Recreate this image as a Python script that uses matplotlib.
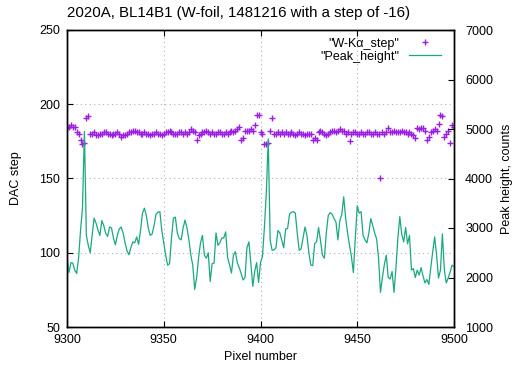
import numpy as np
import matplotlib
matplotlib.use("Agg")
import matplotlib.pyplot as plt
from matplotlib.lines import Line2D

plt.rcParams['font.family'] = ['Liberation Sans', 'DejaVu Sans']
plt.rcParams['font.size'] = 9

# pixel numbers scanned (one point per pixel)
pixel = np.arange(9300, 9501)

# DAC step read for each pixel
dac_step = [
    184, 185, 186, 185, 185, 181, 180, 176, 173, 174,
    191, 192, 180, 180, 181, 179, 179, 180, 180, 181,
    181, 180, 180, 179, 180, 180, 181, 180, 178, 179,
    179, 180, 181, 181, 182, 182, 181, 181, 180, 180,
    181, 180, 180, 179, 180, 180, 181, 180, 180, 179,
    180, 181, 181, 182, 181, 180, 180, 180, 181, 181,
    180, 181, 180, 181, 183, 182, 181, 176, 179, 180,
    181, 181, 182, 181, 180, 181, 180, 180, 181, 181,
    180, 180, 181, 180, 181, 182, 181, 182, 183, 185,
    176, 177, 182, 182, 182, 183, 182, 186, 193, 193,
    181, 180, 173, 173, 174, 182, 191, 180, 180, 181,
    180, 181, 180, 181, 180, 180, 181, 180, 179, 180,
    181, 180, 180, 179, 180, 180, 180, 176, 177, 176,
    181, 182, 181, 180, 179, 180, 181, 182, 182, 181,
    182, 183, 182, 182, 180, 181, 175, 180, 181, 181,
    180, 180, 181, 180, 180, 181, 181, 180, 180, 181,
    180, 180, 150, 181, 180, 181, 184, 181, 181, 182,
    181, 181, 181, 182, 181, 181, 180, 181, 180, 179,
    177, 184, 183, 184, 184, 182, 176, 178, 181, 182,
    183, 182, 187, 193, 192, 178, 180, 182, 174, 186,
    185,
]

# peak height (counts) for each pixel
peak_height = [
    2450, 2100, 2300, 2290, 2150, 2080, 2400, 2950, 3400, 4950,
    2850, 2650, 2500, 2850, 3200, 3100, 2960, 2850, 3150, 3050,
    2890, 2830, 3020, 3000, 2800, 2660, 2850, 2980, 3020, 2900,
    2700, 2540, 2460, 2600, 2720, 2700, 2820, 2670, 2950, 3300,
    3400, 3250, 3000, 2850, 2880, 3050, 3280, 3320, 3330, 2950,
    2700, 2450, 2250, 2280, 2800, 3200, 3220, 2900, 2790, 2760,
    3000, 3160, 3000, 2760, 2450, 2250, 1760, 2000, 2400, 2700,
    2850, 2450, 2390, 2500, 1920, 2280, 2290, 2900, 2650, 2700,
    2800, 2800, 2920, 2400, 2260, 2090, 2450, 2520, 2300, 2200,
    2080, 1950, 2000, 2600, 2720, 2300, 1820, 2120, 2300, 1900,
    2300, 2420, 3000, 3700, 4800, 2750, 2550, 2560, 2600, 2950,
    2900, 2750, 2600, 2980, 2990, 3280, 3320, 3330, 3300, 2890,
    2550, 2580, 2800, 3020, 2850, 2500, 2250, 2240, 2690, 2720,
    3010, 2750, 2450, 2390, 2900, 3250, 3310, 3280, 3190, 3120,
    2760, 3150, 3270, 3630, 3200, 2900, 2650, 2420, 2100, 2800,
    3450, 3300, 3330, 2850, 2760, 2700, 2900, 3190, 3050, 2900,
    2780, 2400, 1700, 2000, 2260, 2450, 2000, 1970, 2120, 1700,
    2200, 2800, 3230, 2870, 2720, 3010, 2680, 2850, 2150, 2180,
    2000, 2150, 2050, 2200, 2030, 1890, 1960, 1860, 2200, 2520,
    2820, 2450, 1990, 2150, 2880, 2160, 1890, 1990, 2110, 2250,
    2220,
]

x_ticks = [9300, 9350, 9400, 9450, 9500]
left_ticks = [50, 100, 150, 200, 250]
right_ticks = [1000, 2000, 3000, 4000, 5000, 6000, 7000]

purple = '#9b1fe0'
green = '#1aa97f'

fig = plt.figure(figsize=(5.17, 3.70), dpi=100)
ax = fig.add_axes([67 / 517, 43 / 370, 387 / 517, 297 / 370])
ax2 = ax.twinx()

ax.plot(pixel, dac_step, linestyle='none', marker='+', color=purple,
        markersize=5, markeredgewidth=1)
ax2.plot(pixel, peak_height, color=green, linewidth=0.9)

ax.set_xlim(9300, 9500)
ax.set_ylim(50, 250)
ax2.set_ylim(1000, 7000)
ax.set_xticks(x_ticks)
ax.set_yticks(left_ticks)
ax2.set_yticks(right_ticks)

ax.grid(True, color='#b0b0b0', linestyle=(0, (1, 3)), linewidth=0.8)
ax.tick_params(axis='both', direction='in', length=4, width=0.8,
               top=True, right=False, pad=5)
ax2.tick_params(axis='y', direction='in', length=4, width=0.8, pad=8)

for a in (ax, ax2):
    for s in a.spines.values():
        s.set_linewidth(1.0)
        s.set_color('black')

ax.set_xlabel('Pixel number', labelpad=4)
ax.set_ylabel('DAC step', labelpad=12)
ax2.set_ylabel('Peak height, counts', labelpad=6)
ax.set_title('2020A, BL14B1 (W-foil, 1481216 with a step of -16)',
             loc='left', pad=9)

handles = [
    Line2D([], [], linestyle='none', marker='+', color=purple,
           markersize=5, markeredgewidth=1),
    Line2D([], [], color=green, linewidth=0.9),
]
labels = ['"W-K\u03b1_step"', '"Peak_height"']
leg = ax2.legend(handles, labels, loc='upper right', frameon=False,
                 markerfirst=False, handlelength=2.5, handletextpad=0.8,
                 labelspacing=0.1, borderaxespad=0.2,
                 bbox_to_anchor=(0.985, 1.0))
for t in leg.get_texts():
    t.set_ha('right')

fig.savefig('out.png', dpi=100)
